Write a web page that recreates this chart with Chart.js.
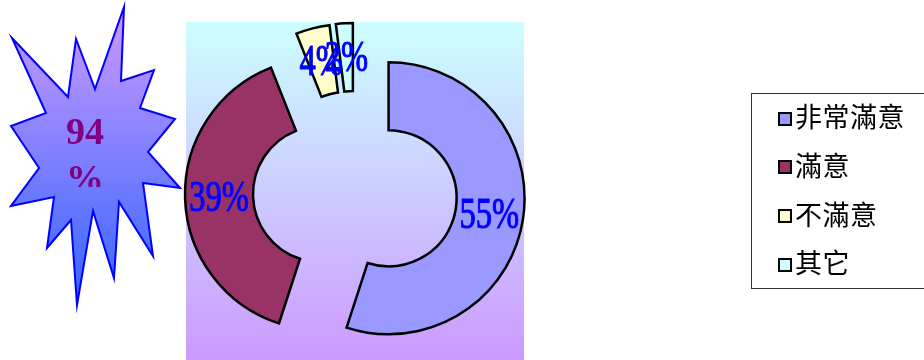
<!DOCTYPE html>
<html>
<head>
<meta charset="utf-8">
<script src="https://cdn.jsdelivr.net/npm/chart.js@4.4.1/dist/chart.umd.min.js"></script>
<style>
  html, body { margin: 0; padding: 0; background: #fff; overflow: hidden; }
  #wrap { position: relative; width: 924px; height: 360px; }
  #c { position: absolute; left: 0; top: 0; }
  #legend {
    position: absolute; left: 751px; top: 93px; width: 200px; height: 196px;
    border: 1px solid #333; box-sizing: border-box; background: #fff;
    font-family: "Noto Sans CJK TC", "Noto Sans CJK SC", sans-serif; font-size: 27px; color: #000;
  }
  .item { position: absolute; left: 26px; height: 48.8px; line-height: 48.8px; white-space: nowrap; }
  .sw { display: inline-block; width: 10px; height: 10px; border: 2px solid #000; vertical-align: middle; margin-right: 3px; position: relative; top: 2px; }
  .tx { vertical-align: middle; letter-spacing: 0.5px; }
</style>
</head>
<body>
<div id="wrap">
  <canvas id="c" width="924" height="360"></canvas>
  <div id="legend"></div>
</div>
<script>
// ---- data ----
const categories = ['非常滿意', '滿意', '不滿意', '其它'];
const values = [55, 39, 4, 2];
// ---- styles ----
const sliceColors = ['#9999ff', '#993366', '#ffffcc', '#ccffff'];
const EXPLODE = 34;

const total = values.reduce((a, b) => a + b, 0);
const satisfiedPct = Math.round((values[0] + values[1]) / total * 100);

// starburst outline (decoration, drawn behind the "94%" call-out)
const starPts = [
  [12,38],[68,97],[76,39],[95,89],[124,7],[121,81],[154,70],[140,108],[175,119],[148,152],
  [180,188],[143,183],[153,256],[119,202],[114,278],[93,211],[77,305],[71,220],[47,248],
  [54,197],[11,206],[39,168],[11,126],[46,113]
];

const explodePlugin = {
  id: 'explode',
  beforeDraw(chart) {
    const { ctx, chartArea: a } = chart;
    const top = a.top - 4;
    const g = ctx.createLinearGradient(0, top, 0, a.bottom);
    g.addColorStop(0, '#ccffff');
    g.addColorStop(1, '#cc99ff');
    ctx.save();
    ctx.fillStyle = g;
    ctx.fillRect(a.left, top, a.right - a.left, a.bottom - top);
    ctx.restore();
  },
  beforeDatasetDraw(chart, args) {
    const ctx = chart.ctx;
    const arcs = args.meta.data;
    arcs.forEach(arc => {
      const mid = (arc.startAngle + arc.endAngle) / 2;
      ctx.save();
      ctx.translate(Math.cos(mid) * EXPLODE, Math.sin(mid) * EXPLODE);
      arc.draw(ctx, chart.chartArea);
      ctx.restore();
    });
    arcs.forEach((arc, i) => {
      const mid = (arc.startAngle + arc.endAngle) / 2;
      const r = EXPLODE + (arc.innerRadius + arc.outerRadius) / 2;
      const x = arc.x + Math.cos(mid) * r;
      const y = arc.y + Math.sin(mid) * r;
      const txt = Math.round(values[i] / total * 100) + '%';
      ctx.save();
      ctx.translate(x, y);
      ctx.scale(0.74, 1);
      ctx.font = '44px "Liberation Serif", serif';
      ctx.fillStyle = '#0000ff';
      ctx.strokeStyle = '#0000ff';
      ctx.lineWidth = 1.1;
      ctx.textAlign = 'center';
      ctx.textBaseline = 'middle';
      ctx.fillText(txt, 0, 2);
      ctx.strokeText(txt, 0, 2);
      ctx.restore();
    });
    return false;
  },
  afterDraw(chart) {
    const ctx = chart.ctx;
    ctx.save();
    ctx.beginPath();
    starPts.forEach((p, i) => i ? ctx.lineTo(p[0], p[1]) : ctx.moveTo(p[0], p[1]));
    ctx.closePath();
    const g = ctx.createLinearGradient(0, 7, 0, 305);
    g.addColorStop(0, '#cc99ff');
    g.addColorStop(1, '#3366ff');
    ctx.fillStyle = g;
    ctx.fill();
    ctx.lineWidth = 2;
    ctx.strokeStyle = '#0000ff';
    ctx.lineJoin = 'miter';
    ctx.stroke();
    // call-out text, clipped like a text box
    ctx.beginPath();
    ctx.rect(40, 100, 90, 87);
    ctx.clip();
    ctx.font = 'bold 38px "Liberation Serif", serif';
    ctx.fillStyle = '#800080';
    ctx.textAlign = 'center';
    ctx.textBaseline = 'alphabetic';
    ctx.fillText(String(satisfiedPct), 85, 144);
    ctx.fillText('%', 85, 191);
    ctx.restore();
  }
};

const chart = new Chart(document.getElementById('c'), {
  type: 'doughnut',
  data: {
    labels: categories,
    datasets: [{
      data: values,
      backgroundColor: sliceColors,
      borderColor: '#000',
      borderWidth: 2.5,
      borderJoinStyle: 'miter'
    }]
  },
  options: {
    responsive: false,
    animation: false,
    radius: 136,
    cutout: '50%',
    layout: { padding: { left: 186, right: 400, top: 26, bottom: 0 } },
    plugins: { legend: { display: false }, tooltip: { enabled: false } },
    events: []
  },
  plugins: [explodePlugin]
});

// legend built from the chart's own labels and colours
const legend = document.getElementById('legend');
chart.data.labels.forEach((lab, i) => {
  const d = document.createElement('div');
  d.className = 'item';
  d.style.top = (-5 + i * 48.8) + 'px';
  const sw = document.createElement('span');
  sw.className = 'sw';
  sw.style.background = chart.data.datasets[0].backgroundColor[i];
  const t = document.createElement('span');
  t.className = 'tx';
  t.textContent = lab;
  d.appendChild(sw); d.appendChild(t);
  legend.appendChild(d);
});
</script>
</body>
</html>
